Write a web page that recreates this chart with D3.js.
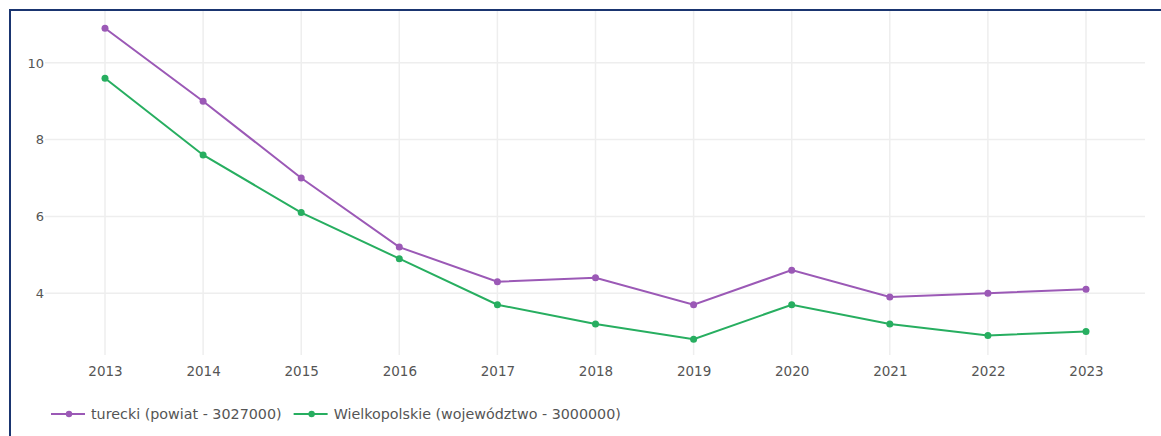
<!DOCTYPE html>
<html><head><meta charset="utf-8">
<script src="https://cdn.jsdelivr.net/npm/d3@7"></script>
<style>
html,body{margin:0;padding:0;background:#fff;overflow:hidden;}
svg{display:block;font-family:"DejaVu Sans",Verdana,sans-serif;}
</style></head>
<body>
<svg id="chart" width="1161" height="436"></svg>
<script>
const years = [2013,2014,2015,2016,2017,2018,2019,2020,2021,2022,2023];
const turecki = [10.9,9.0,7.0,5.2,4.3,4.4,3.7,4.6,3.9,4.0,4.1];
const wielkopolskie = [9.6,7.6,6.1,4.9,3.7,3.2,2.8,3.7,3.2,2.9,3.0];
const yTicks = [4,6,8,10];
const seriesNames = ["turecki (powiat - 3027000)","Wielkopolskie (województwo - 3000000)"];
const seriesColors = ["#9b59b6","#27ae60"];

const svg = d3.select("#chart");
svg.append("rect").attr("x",10).attr("y",10).attr("width",1161).attr("height",440)
  .attr("fill","none").attr("stroke","#1a3570").attr("stroke-width",2);

const pLeft=45, pRight=1145, pTop=11, pBottom=355;
const x = d3.scalePoint().domain(years).range([105,1086]);
const y = d3.scaleLinear().domain([2.39,11.35]).range([pBottom,pTop]);

const g = svg.append("g");
g.selectAll(".hg").data(yTicks).enter().append("line")
  .attr("x1",pLeft).attr("x2",pRight).attr("y1",d=>y(d)).attr("y2",d=>y(d))
  .attr("stroke","#eeeeee").attr("stroke-width",1.5);
g.selectAll(".vg").data(years).enter().append("line")
  .attr("x1",d=>x(d)).attr("x2",d=>x(d)).attr("y1",pTop).attr("y2",pBottom)
  .attr("stroke","#eeeeee").attr("stroke-width",1.5);

const axisFont = "'DejaVu Sans',Verdana,sans-serif";
const yAxis = d3.axisLeft(y).tickValues(yTicks).tickSize(0).tickPadding(0).tickFormat(d3.format("d"));
const ya = svg.append("g").attr("transform","translate(44,0)").call(yAxis);
ya.select(".domain").remove();
ya.selectAll("text").attr("fill","#555").style("font-size","13px").style("font-family",axisFont);

const xAxis = d3.axisBottom(x).tickSize(0).tickPadding(0).tickFormat(d3.format("d"));
const xa = svg.append("g").attr("transform","translate(0,366)").call(xAxis);
xa.select(".domain").remove();
xa.selectAll("text").attr("fill","#555").style("font-size","13.5px").style("font-family",axisFont);

const data = [turecki, wielkopolskie];
const line = d3.line().x((d,i)=>x(years[i])).y(d=>y(d));
data.forEach((s,k)=>{
  svg.append("path").datum(s).attr("d",line).attr("fill","none")
    .attr("stroke",seriesColors[k]).attr("stroke-width",2);
  svg.selectAll(".pt"+k).data(s).enter().append("circle")
    .attr("cx",(d,i)=>x(years[i])).attr("cy",d=>y(d)).attr("r",3.5)
    .attr("fill",seriesColors[k]);
});

const leg = svg.append("g").attr("transform","translate(51,414)");
let lx = 0;
seriesNames.forEach((n,k)=>{
  const it = leg.append("g").attr("transform",`translate(${lx},0)`);
  it.append("line").attr("x1",0).attr("x2",34).attr("y1",0).attr("y2",0)
    .attr("stroke",seriesColors[k]).attr("stroke-width",2);
  it.append("circle").attr("cx",18).attr("cy",0).attr("r",3.2).attr("fill",seriesColors[k]);
  const t = it.append("text").attr("x",40).attr("y",0).attr("dy","0.35em")
    .attr("fill","#555").style("font-size","14.3px").style("font-family",axisFont).text(n);
  lx += 40 + t.node().getComputedTextLength() + 12;
});
</script>
</body></html>
